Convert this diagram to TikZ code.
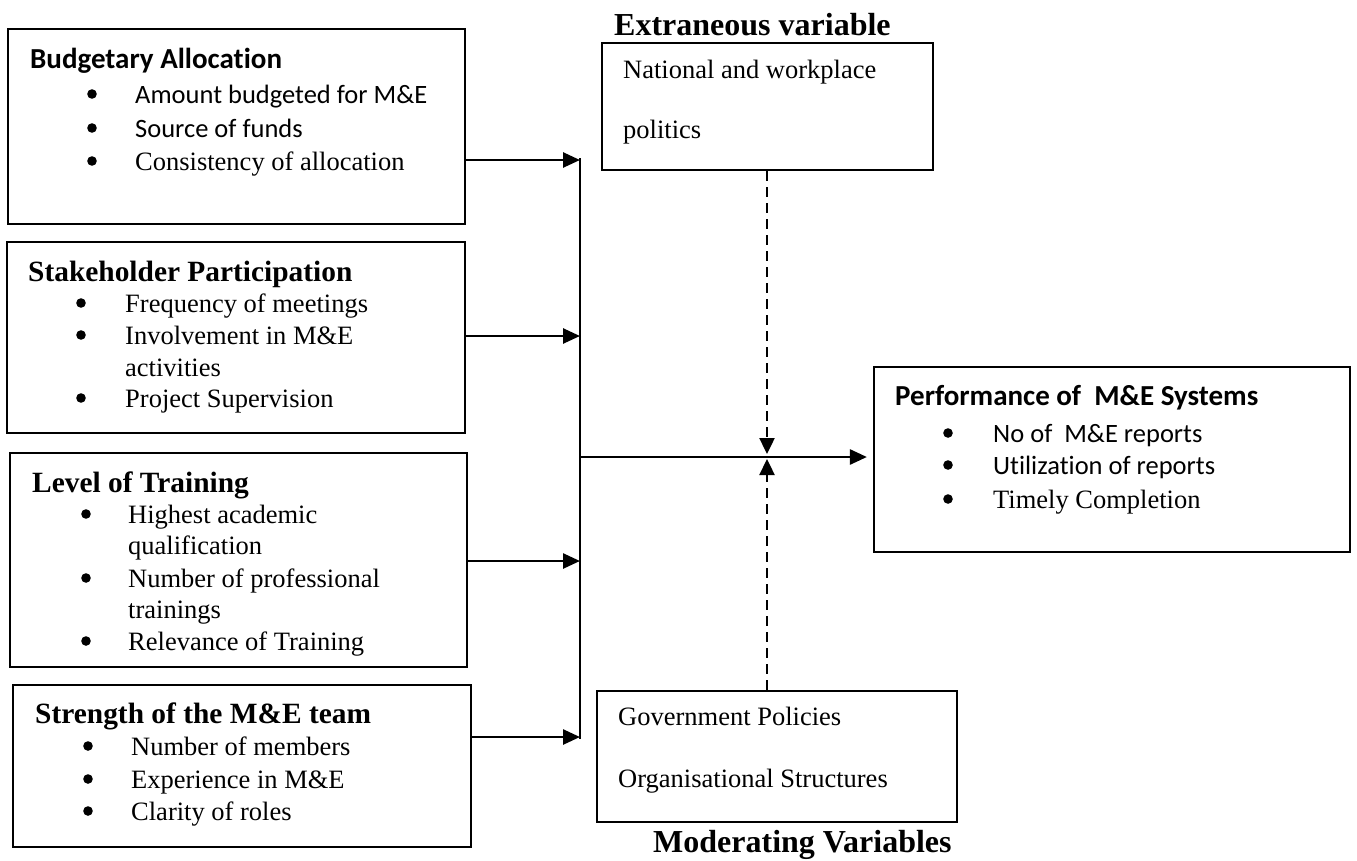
\documentclass[tikz,border=0pt]{standalone}
\usepackage{fontspec}
\setmainfont{Liberation Serif}
\newfontfamily\calib[Ligatures=NoCommon]{Carlito}
\usetikzlibrary{arrows.meta}
\tikzset{
  box/.style={draw, line width=2.2pt, inner sep=0pt},
  arr/.style={line width=2.6pt, -{Triangle[length=17pt,width=15pt]}},
  dasharr/.style={line width=2.4pt, dash pattern=on 10pt off 6pt, -{Triangle[length=16pt,width=15pt]}},
  txt/.style={anchor=base west, inner sep=0pt, font=\fontsize{26.5}{30}\selectfont},
  ctxt/.style={anchor=base west, inner sep=0pt, font=\calib\fontsize{26.5}{30}\selectfont},
  hd/.style={anchor=base west, inner sep=0pt, font=\bfseries\fontsize{29.4}{33}\selectfont},
  chd/.style={anchor=base west, inner sep=0pt, font=\calib\bfseries\fontsize{29}{33}\selectfont},
  big/.style={anchor=base west, inner sep=0pt, font=\bfseries\fontsize{32}{36}\selectfont},
}
\newcommand{\bul}[2]{\fill (#1,#2-9) circle (4.8pt);}
\begin{document}
\begin{tikzpicture}[x=1pt,y=-1pt]
\useasboundingbox (0,0) rectangle (1357,860);
% boxes
\node[box, minimum width=457pt, minimum height=195pt] (b1) at (236.5,126.5) {};
\node[box, minimum width=458pt, minimum height=191pt] (b2) at (236,337.5) {};
\node[box, minimum width=457pt, minimum height=214pt] (b3) at (238.5,560) {};
\node[box, minimum width=458pt, minimum height=162pt] (b4) at (242,766) {};
\node[box, minimum width=331pt, minimum height=127pt] (ext) at (767.5,106.5) {};
\node[box, minimum width=360pt, minimum height=131pt] (mod) at (777,756.5) {};
\node[box, minimum width=476pt, minimum height=185pt] (perf) at (1112,459.5) {};
% box 1
\node[chd] (h1) at (30,68) {Budgetary Allocation};
\bul{92}{103}\node[ctxt] (t11) at (135,103) {Amount budgeted for M\&E};
\bul{92}{137}\node[ctxt] (t12) at (135,137) {Source of funds};
\bul{92}{170}\node[txt] (t13) at (135,170) {Consistency of allocation};
% box 2
\node[hd] (h2) at (28,281) {Stakeholder Participation};
\bul{81}{312}\node[txt] (t21) at (125,312) {Frequency of meetings};
\bul{81}{344}\node[txt] (t22) at (125,344) {Involvement in M\&E};
\node[txt] (t23) at (125,376) {activities};
\bul{81}{407}\node[txt] (t24) at (125,407) {Project Supervision};
% box 3
\node[hd] (h3) at (32,492) {Level of Training};
\bul{86}{523}\node[txt] (t31) at (128,523) {Highest academic};
\node[txt] (t32) at (128,554) {qualification};
\bul{86}{587}\node[txt] (t33) at (128,587) {Number of professional};
\node[txt] (t34) at (128,618) {trainings};
\bul{86}{650}\node[txt] (t35) at (128,650) {Relevance of Training};
% box 4
\node[hd] (h4) at (35,723) {Strength of the M\&E team};
\bul{88}{755}\node[txt] (t41) at (131,755) {Number of members};
\bul{88}{788}\node[txt] (t42) at (131,788) {Experience in M\&E};
\bul{88}{820}\node[txt] (t43) at (131,820) {Clarity of roles};
% performance
\node[chd] (hp) at (895,405) {Performance of \ M\&E Systems};
\bul{948}{442}\node[ctxt] (tp1) at (993,442) {No of \ M\&E reports};
\bul{948}{474}\node[ctxt] (tp2) at (993,474) {Utilization of reports};
\bul{948}{508}\node[txt] (tp3) at (993,508) {Timely Completion};
% extraneous
\node[big] (lext) at (614,35) {Extraneous variable};
\node[txt] (te1) at (623,78) {National and workplace};
\node[txt] (te2) at (623,138) {politics};
% moderating
\node[txt] (tm1) at (618,725) {Government Policies};
\node[txt] (tm2) at (618,787) {Organisational Structures};
\node[big] (lmod) at (653,852) {Moderating Variables};
% connectors
\coordinate (s1) at (580,160);
\coordinate (s2) at (580,336);
\coordinate (s3) at (580,561);
\coordinate (s4) at (580,737);
\coordinate (sm) at (580,457);
\coordinate (jn) at (767,457);
\draw[line width=2.4pt] (580,158) -- (580,739);
\draw[arr] (b1.east |- s1) -- (s1);
\draw[arr] (b2.east |- s2) -- (s2);
\draw[arr] (b3.east |- s3) -- (s3);
\draw[arr] (b4.east |- s4) -- (s4);
\draw[arr, shorten >=6pt] (sm) -- (perf.west |- sm);
\draw[dasharr, shorten >=3pt] (ext.south -| jn) -- (jn);
\draw[dasharr, shorten >=2pt] (mod.north -| jn) -- (jn);
\end{tikzpicture}
\end{document}
